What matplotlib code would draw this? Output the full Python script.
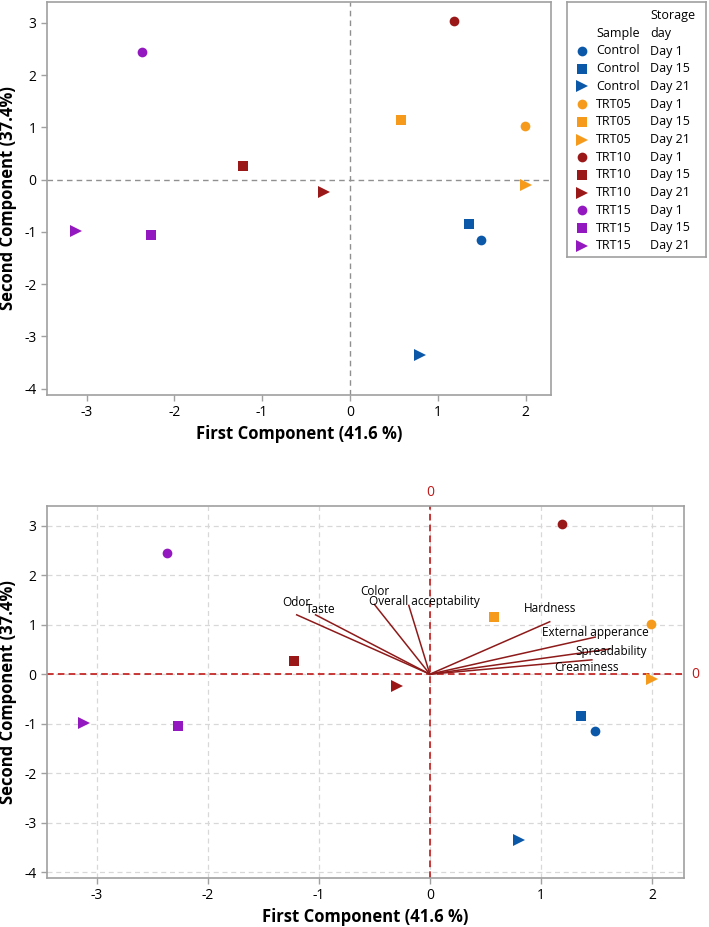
import matplotlib
matplotlib.use("Agg")
import matplotlib.pyplot as plt

plt.rcParams["font.family"] = ["Open Sans", "DejaVu Sans"]
plt.rcParams["axes.unicode_minus"] = False

# scores of the PCA (first and second component)
sample = ["Control", "Control", "Control", "TRT05", "TRT05", "TRT05",
          "TRT10", "TRT10", "TRT10", "TRT15", "TRT15", "TRT15"]
day = ["Day 1", "Day 15", "Day 21"] * 4
pc1 = [1.49, 1.36, 0.80, 1.99, 0.58, 2.00, 1.19, -1.22, -0.30, -2.37, -2.27, -3.12]
pc2 = [-1.15, -0.85, -3.36, 1.02, 1.15, -0.10, 3.04, 0.27, -0.23, 2.44, -1.05, -0.98]

# loadings (vectors in the biplot)
attributes = ["Odor", "Taste", "Color", "Overall acceptability", "Hardness",
              "External apperance", "Spreadability", "Creaminess"]
load1 = [-1.20, -1.03, -0.50, -0.19, 1.08, 1.49, 1.62, 1.46]
load2 = [1.20, 1.20, 1.41, 1.39, 1.06, 0.75, 0.51, 0.29]

xticks = [-3, -2, -1, 0, 1, 2]
yticks = [-4, -3, -2, -1, 0, 1, 2, 3]

colors = {"Control": "#0B57A8", "TRT05": "#F59A1B", "TRT10": "#9A1818", "TRT15": "#9318C0"}
markers = {"Day 1": "o", "Day 15": "s", "Day 21": ">"}
msize = {"Day 1": 7, "Day 15": 6.5, "Day 21": 8}
label_off = [(0, 9), (4, 4), (0, 9.5), (11.5, 3), (0, 9.5), (0, 3), (1, -2), (-4, -5.5)]

frame = "#A0A0A0"
W, H = 709, 927
fig = plt.figure(figsize=(W / 100, H / 100), dpi=100)


def style_axes(ax):
    for s in ax.spines.values():
        s.set_color(frame)
        s.set_linewidth(1.2)
    ax.set_xticks(xticks)
    ax.set_yticks(yticks)
    ax.tick_params(colors=frame, labelcolor="black", labelsize=10, length=4, width=1)
    ax.set_xlim(-3.45, 2.29)
    ax.set_ylim(-4.12, 3.4)
    ax.set_xlabel("First Component (41.6 %)", fontsize=12, fontweight="bold", labelpad=3)


def draw_points(ax):
    for s, d, x, y in zip(sample, day, pc1, pc2):
        ax.plot(x, y, linestyle="none", marker=markers[d], ms=msize[d],
                color=colors[s], markeredgewidth=0, zorder=5)


# upper plot: score plot
ax1 = fig.add_axes([47 / W, 1 - 395 / H, 504 / W, 393 / H])
style_axes(ax1)
ax1.axhline(0, color="#909090", ls=(0, (4, 3)), lw=1)
ax1.axvline(0, color="#909090", ls=(0, (4, 3)), lw=1)
draw_points(ax1)
ax1.set_ylabel("Second Component (37.4%)", fontsize=12, fontweight="bold")
ax1.yaxis.set_label_coords(-0.06, 0.5)

# legend as a small box
lg = fig.add_axes([567 / W, 1 - 257 / H, 139 / W, 255 / H])
lg.set_xlim(0, 139)
lg.set_ylim(255, 0)
lg.set_xticks([])
lg.set_yticks([])
for s in lg.spines.values():
    s.set_color(frame)
    s.set_linewidth(1.2)
lg.text(83, 13, "Storage", fontsize=9, va="center")
lg.text(83, 31, "day", fontsize=9, va="center")
lg.text(29, 31, "Sample", fontsize=9, va="center")
for i, (s, d) in enumerate(zip(sample, day)):
    yy = 49 + i * 17.7
    lg.plot(15, yy, marker=markers[d], ms=msize[d], color=colors[s], markeredgewidth=0)
    lg.text(29, yy, s, fontsize=9, va="center")
    lg.text(83, yy, d, fontsize=9, va="center")

# lower plot: biplot
ax2 = fig.add_axes([47 / W, 1 - 878 / H, 637 / W, 372 / H])
style_axes(ax2)
ax2.grid(True, color="#D8D8D8", ls=(0, (4, 3)), lw=0.9)
ax2.set_axisbelow(True)
ax2.axhline(0, color="#C01818", ls=(0, (4, 2.5)), lw=1.2, zorder=2)
ax2.axvline(0, color="#C01818", ls=(0, (4, 2.5)), lw=1.2, zorder=2)
ax2.text(0, 1.015, "0", transform=ax2.get_xaxis_transform(), color="#C01818",
         ha="center", va="bottom", fontsize=10)
ax2.text(1.012, 0, "0", transform=ax2.get_yaxis_transform(), color="#C01818",
         ha="left", va="center", fontsize=10)
for name, x, y, off in zip(attributes, load1, load2, label_off):
    ax2.plot([0, x], [0, y], color="#8E1A1A", lw=1.1, zorder=3)
    ax2.annotate(name, (x, y), xytext=off, textcoords="offset points",
                 ha="center", va="center", fontsize=8.5, zorder=4)
draw_points(ax2)
ax2.set_ylabel("Second Component (37.4%)", fontsize=12, fontweight="bold")
ax2.yaxis.set_label_coords(-0.047, 0.5)

fig.savefig("out.png", dpi=100)
